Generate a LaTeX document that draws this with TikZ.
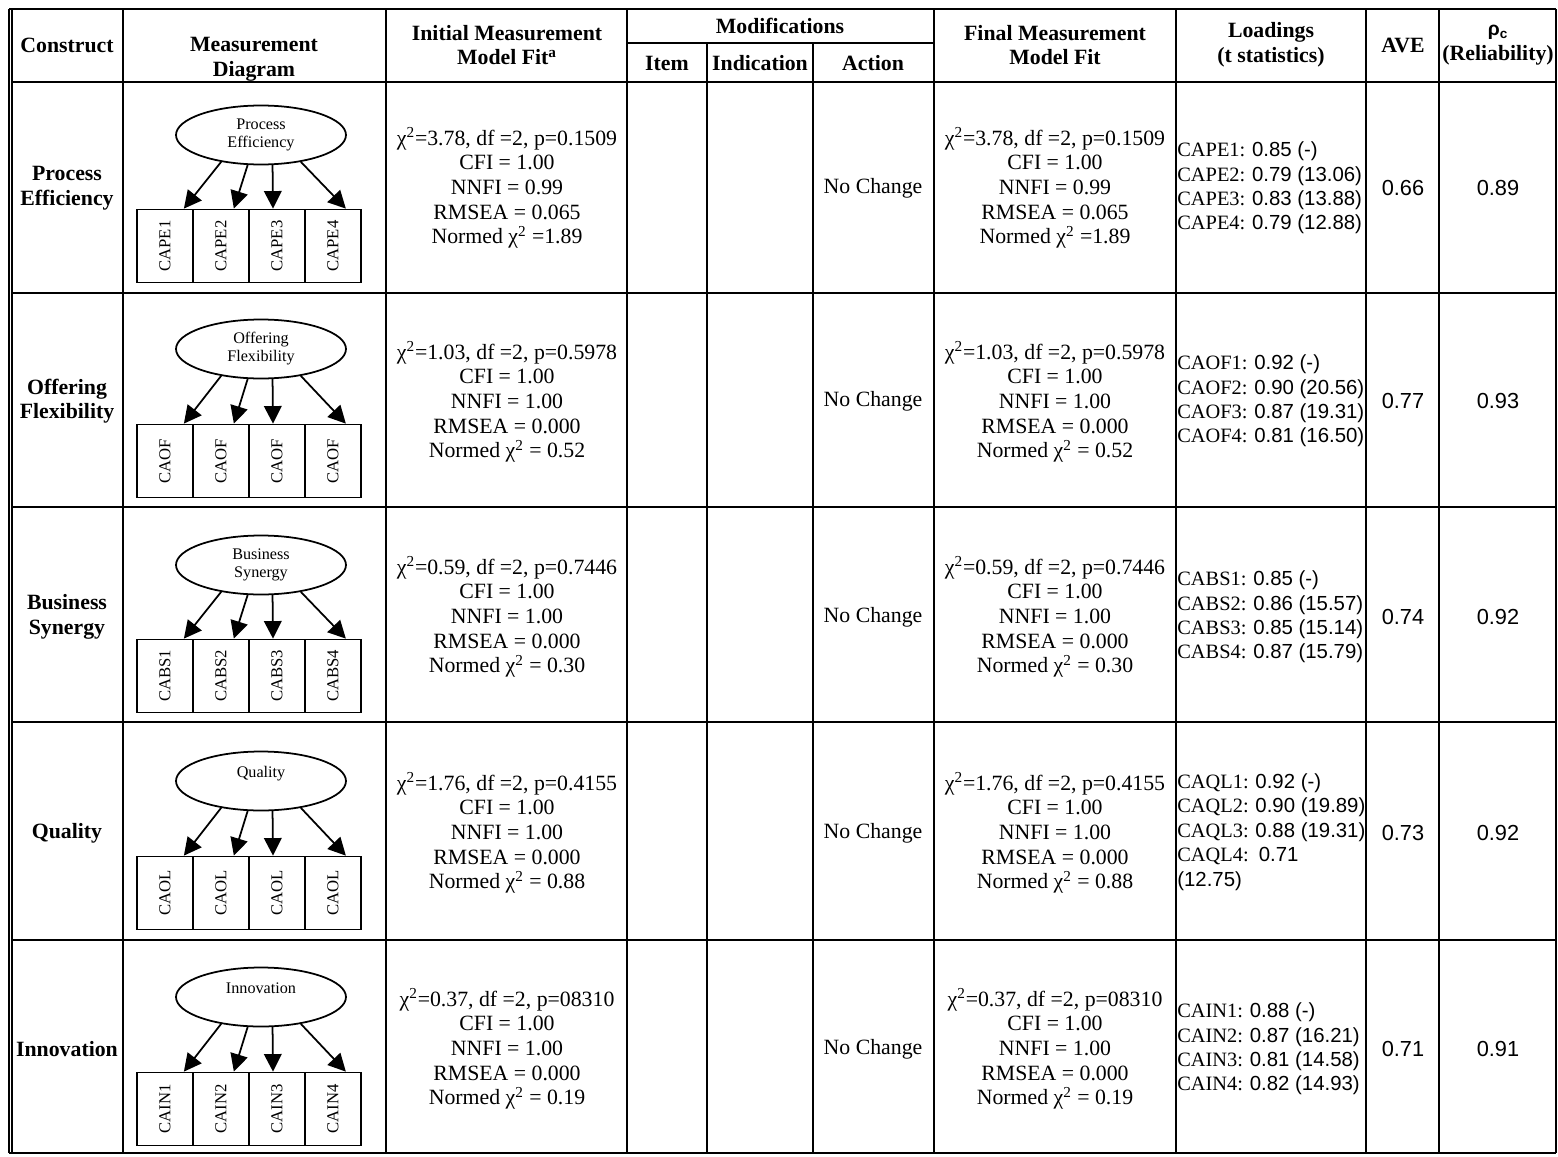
\documentclass[tikz,border=0pt]{standalone}
\usepackage{fontspec}
\setmainfont{Liberation Serif}
\newfontfamily\arial{Liberation Sans}
\usetikzlibrary{shapes.geometric,arrows.meta,calc}

\begin{document}
\begin{tikzpicture}[x=0.02cm, y=-0.02cm,
    grid/.style={line width=1pt},
    head/.style={font=\fontsize{12.4}{14}\selectfont\bfseries, align=center},
    cell/.style={font=\fontsize{12.4}{14}\selectfont, align=center},
    num/.style={font=\fontsize{12.4}{14}\selectfont\arial},
    load/.style={font=\fontsize{11.6}{13.9}\selectfont, align=left,
                 anchor=west, inner sep=0pt},
    latent/.style={draw, line width=1pt, ellipse, minimum width=3.4cm,
                   minimum height=1.18cm, inner sep=0pt, align=center,
                   font=\fontsize{9.2}{10.2}\selectfont},
    item/.style={draw, line width=1pt, minimum width=1.12cm,
                 minimum height=1.46cm, inner sep=0pt,
                 font=\fontsize{9.5}{10}\selectfont},
    arrow/.style={-{Triangle[length=10pt,width=10pt]}, line width=1pt}
]
\useasboundingbox (0,0) rectangle (1558,1156);

% table rules
\draw[grid] (9,9) -- (1556,9);
\draw[grid] (9,1153) -- (1556,1153);
\foreach \y in {82,293,507,722,940}
    \draw[grid] (12,\y) -- (1556,\y);
\draw[grid] (627,43) -- (934,43);
\draw[line width=0.6pt] (9,9) -- (9,1153);
\draw[line width=0.6pt] (12,9) -- (12,1153);
\foreach \x in {123,386,627,934,1176,1366,1439,1556}
    \draw[grid] (\x,9) -- (\x,1153);
\foreach \x in {707,813}
    \draw[grid] (\x,43) -- (\x,1153);

% header
\node[head] (hcon) at (67,45) {Construct};
\node[head] (hdia) at (254,59) {Measurement\\Diagram};
\node[head] (hini) at (507,45) {Initial Measurement\\Model Fit\textsuperscript{a}};
\node[head] (hmod) at (780,26) {Modifications};
\node[head] (hitem) at (667,63) {Item};
\node[head] (hind) at (760,63) {Indication};
\node[head] (hact) at (873,63) {Action};
\node[head] (hfin) at (1055,45) {Final Measurement\\Model Fit};
\node[head] (hload) at (1271,45) {Loadings\\(t statistics)};
\node[head] (have) at (1403,45) {AVE};
\node[head] (hrel) at (1498,45) {{\arial\fontsize{11}{14}\selectfont ρ\textsubscript{c}}\\(Reliability)};

% measurement diagrams
\foreach \k/\ey/\by/\lab/\a/\b/\c/\d in {
    1/135/246/{Process\\Efficiency}/CAPE1/CAPE2/CAPE3/CAPE4,
    2/349/461/{Offering\\Flexibility}/CAOF/CAOF/CAOF/CAOF,
    3/565/676/{Business\\Synergy}/CABS1/CABS2/CABS3/CABS4,
    4/781/893/{Quality\\\mbox{}}/CAOL/CAOL/CAOL/CAOL,
    5/997/1109/{Innovation\\\mbox{}}/CAIN1/CAIN2/CAIN3/CAIN4} {
    \node[latent] (lat\k) at (261,\ey) {\lab};
    \node[item] (ind\k1) at (165,\by) {\rotatebox{90}{\a}};
    \node[item] (ind\k2) at (221,\by) {\rotatebox{90}{\b}};
    \node[item] (ind\k3) at (277,\by) {\rotatebox{90}{\c}};
    \node[item] (ind\k4) at (333,\by) {\rotatebox{90}{\d}};
    \draw[arrow] (lat\k.214) -- ($(ind\k1.north east)+(-10,0)$);
    \draw[arrow] (lat\k.246) -- ($(ind\k2.north east)+(-16,0)$);
    \draw[arrow] (lat\k.291) -- ($(ind\k3.north)+(-4,0)$);
    \draw[arrow] (lat\k.326) -- ($(ind\k4.north east)+(-16,0)$);
}

% Process Efficiency
\node[head] (con1) at (67,188) {Process\\Efficiency};
\node[cell] (ini1) at (507,188) {χ\textsuperscript{2}=3.78, df =2, p=0.1509\\CFI = 1.00\\NNFI = 0.99\\RMSEA = 0.065\\Normed χ\textsuperscript{2} =1.89};
\node[cell] (act1) at (873,188) {No Change};
\node[cell] (fin1) at (1055,188) {χ\textsuperscript{2}=3.78, df =2, p=0.1509\\CFI = 1.00\\NNFI = 0.99\\RMSEA = 0.065\\Normed χ\textsuperscript{2} =1.89};
\node[load] (ld1) at (1177,188) {CAPE1: {\arial 0.85 (-)}\\CAPE2: {\arial 0.79 (13.06)}\\CAPE3: {\arial 0.83 (13.88)}\\CAPE4: {\arial 0.79 (12.88)}};
\node[num] (ave1) at (1403,188) {0.66};
\node[num] (rel1) at (1498,188) {0.89};

% Offering Flexibility
\node[head] (con2) at (67,401) {Offering\\Flexibility};
\node[cell] (ini2) at (507,402) {χ\textsuperscript{2}=1.03, df =2, p=0.5978\\CFI = 1.00\\NNFI = 1.00\\RMSEA = 0.000\\Normed χ\textsuperscript{2} = 0.52};
\node[cell] (act2) at (873,401) {No Change};
\node[cell] (fin2) at (1055,402) {χ\textsuperscript{2}=1.03, df =2, p=0.5978\\CFI = 1.00\\NNFI = 1.00\\RMSEA = 0.000\\Normed χ\textsuperscript{2} = 0.52};
\node[load] (ld2) at (1177,401) {CAOF1: {\arial 0.92 (-)}\\CAOF2: {\arial 0.90 (20.56)}\\CAOF3: {\arial 0.87 (19.31)}\\CAOF4: {\arial 0.81 (16.50)}};
\node[num] (ave2) at (1403,401) {0.77};
\node[num] (rel2) at (1498,401) {0.93};

% Business Synergy
\node[head] (con3) at (67,617) {Business\\Synergy};
\node[cell] (ini3) at (507,617) {χ\textsuperscript{2}=0.59, df =2, p=0.7446\\CFI = 1.00\\NNFI = 1.00\\RMSEA = 0.000\\Normed χ\textsuperscript{2} = 0.30};
\node[cell] (act3) at (873,617) {No Change};
\node[cell] (fin3) at (1055,617) {χ\textsuperscript{2}=0.59, df =2, p=0.7446\\CFI = 1.00\\NNFI = 1.00\\RMSEA = 0.000\\Normed χ\textsuperscript{2} = 0.30};
\node[load] (ld3) at (1177,617) {CABS1: {\arial 0.85 (-)}\\CABS2: {\arial 0.86 (15.57)}\\CABS3: {\arial 0.85 (15.14)}\\CABS4: {\arial 0.87 (15.79)}};
\node[num] (ave3) at (1403,617) {0.74};
\node[num] (rel3) at (1498,617) {0.92};

% Quality
\node[head] (con4) at (67,833) {Quality};
\node[cell] (ini4) at (507,833) {χ\textsuperscript{2}=1.76, df =2, p=0.4155\\CFI = 1.00\\NNFI = 1.00\\RMSEA = 0.000\\Normed χ\textsuperscript{2} = 0.88};
\node[cell] (act4) at (873,833) {No Change};
\node[cell] (fin4) at (1055,833) {χ\textsuperscript{2}=1.76, df =2, p=0.4155\\CFI = 1.00\\NNFI = 1.00\\RMSEA = 0.000\\Normed χ\textsuperscript{2} = 0.88};
\node[load] (ld4) at (1177,832) {CAQL1: {\arial 0.92 (-)}\\CAQL2: {\arial 0.90 (19.89)}\\CAQL3: {\arial 0.88 (19.31)}\\CAQL4:\ \ {\arial 0.71}\\{\arial (12.75)}};
\node[num] (ave4) at (1403,833) {0.73};
\node[num] (rel4) at (1498,833) {0.92};

% Innovation
\node[head] (con5) at (67,1049) {Innovation};
\node[cell] (ini5) at (507,1049) {χ\textsuperscript{2}=0.37, df =2, p=08310\\CFI = 1.00\\NNFI = 1.00\\RMSEA = 0.000\\Normed χ\textsuperscript{2} = 0.19};
\node[cell] (act5) at (873,1049) {No Change};
\node[cell] (fin5) at (1055,1049) {χ\textsuperscript{2}=0.37, df =2, p=08310\\CFI = 1.00\\NNFI = 1.00\\RMSEA = 0.000\\Normed χ\textsuperscript{2} = 0.19};
\node[load] (ld5) at (1177,1049) {CAIN1: {\arial 0.88 (-)}\\CAIN2: {\arial 0.87 (16.21)}\\CAIN3: {\arial 0.81 (14.58)}\\CAIN4: {\arial 0.82 (14.93)}};
\node[num] (ave5) at (1403,1049) {0.71};
\node[num] (rel5) at (1498,1049) {0.91};
\end{tikzpicture}
\end{document}
